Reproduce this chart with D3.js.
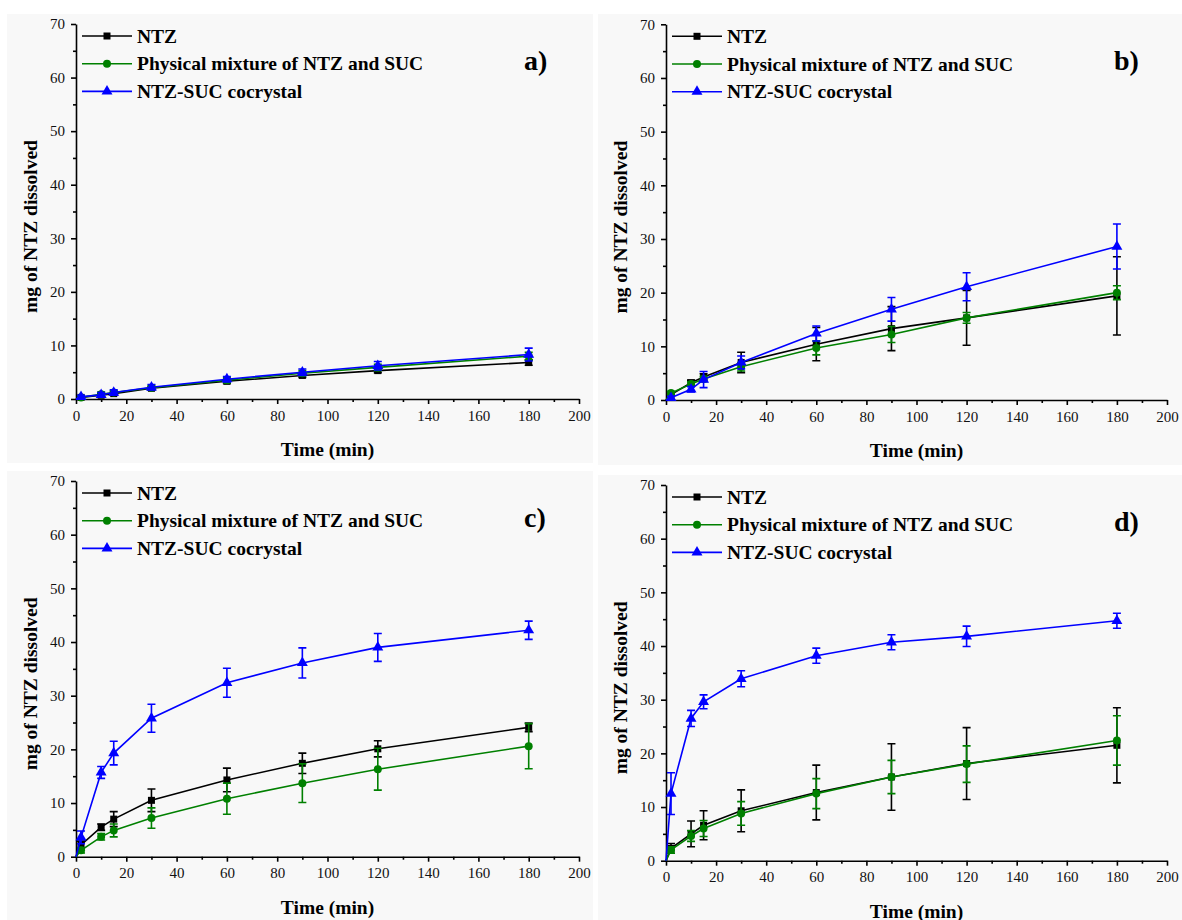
<!DOCTYPE html>
<html>
<head>
<meta charset="utf-8">
<script src="https://cdn.jsdelivr.net/npm/d3@7"></script>
<style>
body { margin: 0; background: #fff; }
text { font-family: "Liberation Serif", "Times New Roman", serif; }
</style>
</head>
<body>
<svg id="chart" width="1182" height="920"></svg>
<script>
// Sampling times (min)
var times = [0, 2, 10, 15, 30, 60, 90, 120, 180];
var seriesNames = ["NTZ", "Physical mixture of NTZ and SUC", "NTZ-SUC cocrystal"];
var panelLabels = ["a)", "b)", "c)", "d)"];
var xTicks = [0, 20, 40, 60, 80, 100, 120, 140, 160, 180, 200];
var yTicks = [0, 10, 20, 30, 40, 50, 60, 70];

// Panel a
var ntzA = [0, 0.3, 0.7, 1.0, 2.0, 3.3, 4.4, 5.3, 6.8];
var pmA = [0, 0.3, 0.9, 1.2, 2.1, 3.5, 4.8, 5.9, 8.0];
var cocA = [0, 0.4, 0.8, 1.2, 2.2, 3.7, 5.0, 6.2, 8.3];
var ntzErrA = [0, 0.2, 0.3, 0.3, 0.3, 0.4, 0.4, 0.4, 0.5];
var pmErrA = [0, 0.2, 0.4, 0.4, 0.4, 0.5, 0.5, 0.6, 0.7];
var cocErrA = [0, 0.3, 0.4, 0.5, 0.5, 0.5, 0.6, 0.8, 1.2];

// Panel b
var ntzB = [0, 1.0, 3.2, 4.3, 7.0, 10.4, 13.3, 15.3, 19.4];
var pmB = [0, 1.3, 3.0, 3.9, 6.2, 9.7, 12.2, 15.3, 20.0];
var cocB = [0, 0.4, 2.0, 3.8, 7.0, 12.4, 16.9, 21.1, 28.6];
var ntzErrB = [0, 0.3, 0.5, 0.6, 1.9, 3.1, 4.1, 5.1, 7.3];
var pmErrB = [0, 0.3, 0.4, 0.5, 0.8, 1.3, 1.5, 1.0, 1.3];
var cocErrB = [0, 0.3, 0.5, 1.5, 1.2, 1.4, 2.2, 2.6, 4.2];

// Panel c
var ntzC = [0, 2.2, 5.5, 7.0, 10.5, 14.3, 17.4, 20.1, 24.1];
var pmC = [0, 1.2, 3.7, 4.9, 7.2, 10.8, 13.7, 16.3, 20.6];
var cocC = [0, 3.6, 15.7, 19.3, 25.8, 32.4, 36.1, 39.0, 42.2];
var ntzErrC = [0, 0.7, 0.6, 1.4, 2.1, 2.2, 1.9, 1.5, 0.8];
var pmErrC = [0, 0.5, 0.6, 1.2, 1.9, 2.9, 3.6, 3.9, 4.2];
var cocErrC = [0, 1.2, 1.1, 2.2, 2.6, 2.7, 2.8, 2.6, 1.7];

// Panel d
var ntzD = [0, 2.3, 5.0, 6.6, 9.3, 12.7, 15.6, 18.1, 21.5];
var pmD = [0, 2.0, 4.6, 6.0, 8.8, 12.5, 15.6, 18.0, 22.4];
var cocD = [0, 12.5, 26.5, 29.6, 33.9, 38.2, 40.7, 41.8, 44.7];
var ntzErrD = [0, 0.9, 2.4, 2.7, 3.9, 5.1, 6.2, 6.7, 7.0];
var pmErrD = [0, 0.6, 1.0, 1.5, 2.2, 2.8, 3.1, 3.4, 4.6];
var cocErrD = [0, 3.9, 1.5, 1.3, 1.5, 1.4, 1.4, 1.9, 1.4];

var panelValues = [[ntzA, pmA, cocA], [ntzB, pmB, cocB], [ntzC, pmC, cocC], [ntzD, pmD, cocD]];
var panelErrors = [[ntzErrA, pmErrA, cocErrA], [ntzErrB, pmErrB, cocErrB], [ntzErrC, pmErrC, cocErrC], [ntzErrD, pmErrD, cocErrD]];

// Series styles
var colors = ["#000000", "#008000", "#0000ff"];
var symbols = [d3.symbolSquare, d3.symbolCircle, d3.symbolTriangle];
var symbolSizes = [49, 50, 52];

// Panel frames: background box, x range, y range (pixels)
var layout = [
    { bg: [7, 14, 593, 463], x: [76, 579], y: [399, 24] },
    { bg: [598, 14, 1182, 465], x: [666, 1167], y: [400, 24.3] },
    { bg: [7, 471, 593, 920], x: [76, 579], y: [856.7, 481] },
    { bg: [598, 475, 1182, 920], x: [666, 1167], y: [860.7, 485] }
];

var svg = d3.select("#chart");

layout.forEach(function (p, pi) {

    svg.append("rect")
        .attr("x", p.bg[0])
        .attr("y", p.bg[1])
        .attr("width", p.bg[2] - p.bg[0])
        .attr("height", p.bg[3] - p.bg[1])
        .attr("fill", "#f8f8f8");

    var xScale = d3.scaleLinear().domain([0, 200]).range(p.x);
    var yScale = d3.scaleLinear().domain([0, 70]).range(p.y);

    var g = svg.append("g");

    // Minor ticks
    var xMinor = d3.axisBottom(xScale)
        .tickValues(d3.range(10, 200, 20))
        .tickSize(3).tickSizeOuter(0).tickFormat("");
    g.append("g")
        .attr("transform", `translate(0, ${p.y[0]})`)
        .call(xMinor)
        .call(a => a.select(".domain").remove());

    var yMinor = d3.axisLeft(yScale)
        .tickValues(d3.range(5, 70, 10))
        .tickSize(3).tickSizeOuter(0).tickFormat("");
    g.append("g")
        .attr("transform", `translate(${p.x[0]}, 0)`)
        .call(yMinor)
        .call(a => a.select(".domain").remove());

    // Major axes
    var xAxis = d3.axisBottom(xScale)
        .tickValues(xTicks)
        .tickSize(5).tickSizeOuter(0).tickPadding(6);
    g.append("g")
        .attr("class", "xAxis")
        .attr("transform", `translate(0, ${p.y[0]})`)
        .call(xAxis);

    var yAxis = d3.axisLeft(yScale)
        .tickValues(yTicks)
        .tickSize(5).tickSizeOuter(0).tickPadding(6);
    g.append("g")
        .attr("class", "yAxis")
        .attr("transform", `translate(${p.x[0]}, 0)`)
        .call(yAxis);

    g.selectAll(".domain, .tick line")
        .attr("stroke", "#000")
        .attr("stroke-width", 1.6);
    g.selectAll("g").attr("font-family", null).attr("font-size", null);
    g.selectAll(".tick text")
        .attr("fill", "#111")
        .style("font-size", "15px");

    // Axis titles
    svg.append("text")
        .attr("x", (p.x[0] + p.x[1]) / 2)
        .attr("y", p.y[0] + 57)
        .attr("text-anchor", "middle")
        .style("font-size", "19.5px")
        .style("font-weight", "bold")
        .text("Time (min)");

    svg.append("g")
        .attr("transform", `translate(${p.x[0] - 39} ${(p.y[0] + p.y[1]) / 2 + 15})`)
        .append("text")
        .attr("text-anchor", "middle")
        .attr("transform", "rotate(-90)")
        .style("font-size", "19.5px")
        .style("font-weight", "bold")
        .text("mg of NTZ dissolved");

    // Panel letter
    svg.append("text")
        .attr("x", p.x[0] + 448)
        .attr("y", p.y[1] + 46)
        .style("font-size", "28px")
        .style("font-weight", "bold")
        .text(panelLabels[pi]);

    // Series
    var line = d3.line()
        .x((d, i) => xScale(times[i]))
        .y(d => yScale(d));

    panelValues[pi].forEach(function (vals, si) {
        var errs = panelErrors[pi][si];
        var sg = svg.append("g");

        sg.append("path")
            .datum(vals)
            .attr("d", line)
            .attr("fill", "none")
            .attr("stroke", colors[si])
            .attr("stroke-width", 1.6);

        var pts = vals.map((v, i) => ({ t: times[i], v: v, e: errs[i] }))
            .filter(d => d.t > 0);

        var eb = sg.selectAll(".err")
            .data(pts)
            .enter()
            .append("path")
            .attr("class", "err")
            .attr("fill", "none")
            .attr("stroke", colors[si])
            .attr("stroke-width", 1.6)
            .attr("d", function (d) {
                var cx = xScale(d.t);
                var top = yScale(d.v + d.e);
                var bot = yScale(d.v - d.e);
                return `M${cx},${top}V${bot}M${cx - 4},${top}H${cx + 4}M${cx - 4},${bot}H${cx + 4}`;
            });

        sg.selectAll(".mk")
            .data(pts)
            .enter()
            .append("path")
            .attr("class", "mk")
            .attr("d", d3.symbol().type(symbols[si]).size(symbolSizes[si]))
            .attr("transform", d => `translate(${xScale(d.t)} ${yScale(d.v)})`)
            .attr("fill", colors[si]);
    });

    // Legend
    var legend = svg.append("g");
    seriesNames.forEach(function (name, si) {
        var ly = p.y[1] + 12 + si * 27.7;
        legend.append("line")
            .attr("x1", p.x[0] + 6)
            .attr("x2", p.x[0] + 56)
            .attr("y1", ly)
            .attr("y2", ly)
            .attr("stroke", colors[si])
            .attr("stroke-width", 1.6);
        legend.append("path")
            .attr("d", d3.symbol().type(symbols[si]).size(symbolSizes[si]))
            .attr("transform", `translate(${p.x[0] + 31} ${ly})`)
            .attr("fill", colors[si]);
        legend.append("text")
            .attr("x", p.x[0] + 61)
            .attr("y", ly + 6.5)
            .style("font-size", "19.5px")
            .style("font-weight", "bold")
            .text(name);
    });
});
</script>
</body>
</html>
